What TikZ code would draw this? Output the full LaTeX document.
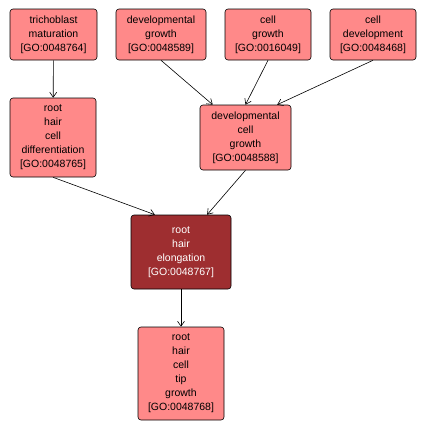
\documentclass[tikz,border=0pt]{standalone}
\usepackage{fontspec}
\setmainfont{Liberation Sans}
\usetikzlibrary{arrows.meta}
\definecolor{termfill}{RGB}{255,137,137}
\definecolor{hitfill}{RGB}{158,46,48}
\tikzset{
	term/.style={draw=black, fill=termfill, rounded corners=3pt, align=center, inner sep=0pt, line width=0.6pt},
	hit/.style={term, fill=hitfill, text=white},
	isa/.style={->, line width=0.6pt}
}
\begin{document}
\begin{tikzpicture}[x=1pt, y=-1pt, font=\fontsize{10.5}{14}\selectfont, line join=round, >={Straight Barb[length=5pt,width=7pt]}]
		\useasboundingbox (0,0) rectangle (426,431);
		% top row
		\node[term, minimum width=87pt, minimum height=51pt] (tricho) at (53.5,34.5) {trichoblast\\maturation\\{[GO:0048764]}};
		\node[term, minimum width=90pt, minimum height=51pt] (devgrowth) at (161,34.5) {developmental\\growth\\{[GO:0048589]}};
		\node[term, minimum width=86pt, minimum height=51pt] (cellgrowth) at (268,34.5) {cell\\growth\\{[GO:0016049]}};
		\node[term, minimum width=86pt, minimum height=51pt] (celldev) at (373,34.5) {cell\\development\\{[GO:0048468]}};
		% middle row
		\node[term, minimum width=86pt, minimum height=79pt] (rhcd) at (53,137.5) {root\\hair\\cell\\differentiation\\{[GO:0048765]}};
		\node[term, minimum width=91pt, minimum height=65pt] (dcg) at (245.5,137.5) {developmental\\cell\\growth\\{[GO:0048588]}};
		% query term
		\node[hit, minimum width=100pt, minimum height=74pt] (rhe) at (181,252) {root\\hair\\elongation\\{[GO:0048767]}};
		\node[term, minimum width=86pt, minimum height=93pt] (tip) at (181,373.5) {root\\hair\\cell\\tip\\growth\\{[GO:0048768]}};
		% edges
		\draw[isa] (tricho) -- (rhcd);
		\draw[isa] (devgrowth.south) -- (dcg.135);
		\draw[isa] (cellgrowth.south) -- (dcg.north);
		\draw[isa] (celldev.south) -- (dcg.46);
		\draw[isa] (rhcd.south) -- (rhe.125);
		\draw[isa] (dcg.south) -- (rhe.55);
		\draw[isa] (rhe) -- (tip);
\end{tikzpicture}
\end{document}
